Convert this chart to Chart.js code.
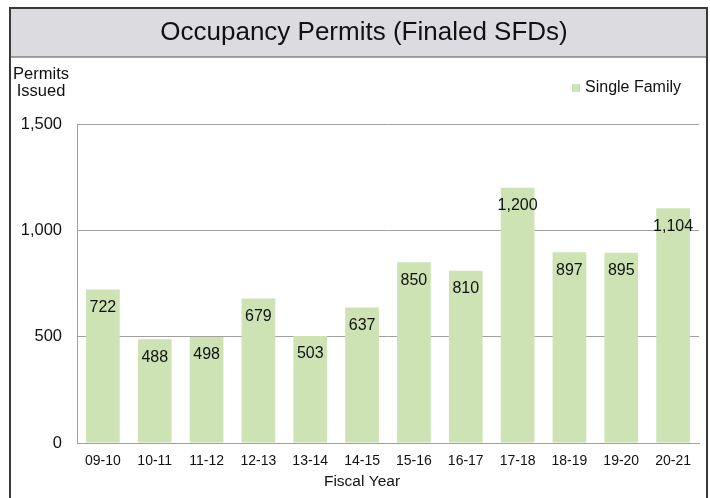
<!DOCTYPE html>
<html>
<head>
<meta charset="utf-8">
<script src="https://cdn.jsdelivr.net/npm/chart.js@4.4.0/dist/chart.umd.min.js"></script>
<style>
html,body{margin:0;padding:0;background:#fff;}
#wrap{width:710px;height:498px;position:relative;}
</style>
</head>
<body>
<div id="wrap"><canvas id="c" width="710" height="498"></canvas></div>
<script>
const chartTitle = "Occupancy Permits (Finaled SFDs)";
const categories = ["09-10","10-11","11-12","12-13","13-14","14-15","15-16","16-17","17-18","18-19","19-20","20-21"];
const singleFamily = [722,488,498,679,503,637,850,810,1200,897,895,1104];
const seriesName = "Single Family";
const yTitleLines = ["Permits","Issued"];
const xTitle = "Fiscal Year";
const yTicks = {min:0, max:1500, step:500};

const FONT = "'Liberation Sans', Arial, sans-serif";
const BAR = "#cde3b3";
const fmt = v => Number(v).toLocaleString('en-US');

const frame = {
  id:'frame',
  beforeDraw(chart){
    const ctx = chart.ctx;
    ctx.save();
    ctx.fillStyle = '#fff';
    ctx.fillRect(0,0,710,498);
    ctx.fillStyle = '#dcdce0';
    ctx.fillRect(10,8,697,49);
    ctx.strokeStyle = '#858585';
    ctx.lineWidth = 1.5;
    ctx.beginPath(); ctx.moveTo(10,57); ctx.lineTo(707,57); ctx.stroke();
    ctx.strokeStyle = '#3a3a3a';
    ctx.lineWidth = 2;
    ctx.strokeRect(10,8,697,520);
    ctx.fillStyle = '#111';
    ctx.font = "26px " + FONT;
    ctx.textAlign = 'center'; ctx.textBaseline = 'middle';
    ctx.fillText(chartTitle, 364, 33);
    ctx.font = "16.5px " + FONT;
    ctx.fillText(yTitleLines[0], 41, 74);
    ctx.fillText(yTitleLines[1], 41, 91);
    ctx.font = "15.5px " + FONT;
    ctx.fillText(xTitle, 362, 482);
    // legend
    ctx.fillStyle = BAR;
    ctx.fillRect(572,84,8,8);
    ctx.fillStyle = '#111';
    ctx.font = "16px " + FONT;
    ctx.textAlign = 'left';
    ctx.fillText(seriesName, 585, 88);
    ctx.restore();
  },
  afterDatasetsDraw(chart){
    const ctx = chart.ctx;
    const meta = chart.getDatasetMeta(0);
    ctx.save();
    ctx.fillStyle = '#111';
    ctx.font = "16px " + FONT;
    ctx.textAlign = 'center'; ctx.textBaseline = 'middle';
    meta.data.forEach((bar,i)=>{
      ctx.fillText(fmt(chart.data.datasets[0].data[i]), bar.x, bar.y + 18);
    });
    ctx.restore();
  }
};

new Chart(document.getElementById('c'), {
  type:'bar',
  data:{labels:categories, datasets:[{label:seriesName, data:singleFamily, backgroundColor:BAR, borderWidth:0, barPercentage:0.65, categoryPercentage:1.0}]},
  options:{
    responsive:false, animation:false,
    layout:{padding:{left:0,top:124,right:11,bottom:0}},
    plugins:{legend:{display:false}, title:{display:false}, tooltip:{enabled:false}},
    scales:{
      x:{
        afterFit(s){ s.height = 55; },
        grid:{display:false, drawTicks:false},
        border:{display:true, color:'#a0a0a0', width:1},
        ticks:{color:'#111', font:{family:FONT, size:14}, padding:10, maxRotation:0, autoSkip:false}
      },
      y:{
        min:yTicks.min, max:yTicks.max,
        afterFit(s){ s.width = 77; },
        grid:{color:'#a0a0a0', lineWidth:1, drawTicks:false},
        border:{display:true, color:'#a0a0a0', width:1},
        ticks:{stepSize:yTicks.step, color:'#111', font:{family:FONT, size:16.5}, padding:15, callback:v=>fmt(v)}
      }
    }
  },
  plugins:[frame]
});
</script>
</body>
</html>
